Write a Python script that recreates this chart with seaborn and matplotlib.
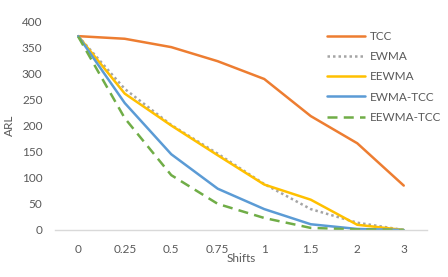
import pandas as pd
import matplotlib.pyplot as plt
import seaborn as sns

# Data
shifts = ["0", "0.25", "0.5", "0.75", "1", "1.5", "2", "3"]
tcc = [371, 366, 350, 323, 289, 218, 166, 85]
ewma = [371, 270, 201, 146, 88, 40, 14, 0]
eewma = [371, 261, 200, 143, 87, 58, 10, 0]
ewma_tcc = [371, 243, 145, 79, 40, 11, 2, 0]
eewma_tcc = [370, 214, 105, 50, 23, 4, 1, 0]

series = {
    "TCC": tcc,
    "EWMA": ewma,
    "EEWMA": eewma,
    "EWMA-TCC": ewma_tcc,
    "EEWMA-TCC": eewma_tcc,
}

rows = []
for name, vals in series.items():
    for s, v in zip(shifts, vals):
        rows.append({"Shifts": s, "ARL": v, "Method": name})
df = pd.DataFrame(rows)

palette = {
    "TCC": "#ED7D31",
    "EWMA": "#A5A5A5",
    "EEWMA": "#FFC000",
    "EWMA-TCC": "#5B9BD5",
    "EEWMA-TCC": "#70AD47",
}
dashes = {
    "TCC": "",
    "EWMA": (1, 1.2),
    "EEWMA": "",
    "EWMA-TCC": "",
    "EEWMA-TCC": (4, 2.5),
}

sns.set_style("white")
plt.rcParams["font.family"] = ["Lato", "DejaVu Sans"]

fig = plt.figure(figsize=(4.48, 2.77), dpi=100)
ax = fig.add_axes([55 / 448, 1 - 230 / 277, 372 / 448, 209 / 277])

sns.lineplot(
    data=df,
    x="Shifts",
    y="ARL",
    hue="Method",
    style="Method",
    palette=palette,
    dashes=dashes,
    sort=False,
    linewidth=1.8,
    ax=ax,
)

ax.set_xlim(-0.5, len(shifts) - 0.5)
ax.set_ylim(0, 400)
ax.set_yticks(range(0, 401, 50))

for side in ["top", "right", "left"]:
    ax.spines[side].set_visible(False)
ax.spines["bottom"].set_color("#D9D9D9")
ax.spines["bottom"].set_linewidth(1)

ax.tick_params(axis="both", length=0, labelsize=8.5, labelcolor="#595959")
ax.tick_params(axis="x", pad=10)
ax.tick_params(axis="y", pad=9)

ax.set_xlabel("Shifts", fontsize=8.5, color="#595959", labelpad=-1)
ax.set_ylabel("ARL", fontsize=8.5, color="#595959", labelpad=5)

leg = ax.legend(
    loc="upper left",
    bbox_to_anchor=(321 / 448, 1 - 25 / 277),
    bbox_transform=fig.transFigure,
    frameon=False,
    fontsize=8.5,
    handlelength=3.2,
    handletextpad=0.4,
    labelspacing=0.78,
    borderpad=0,
)
for t in leg.get_texts():
    t.set_color("#595959")

plt.savefig("out.png", dpi=100)
